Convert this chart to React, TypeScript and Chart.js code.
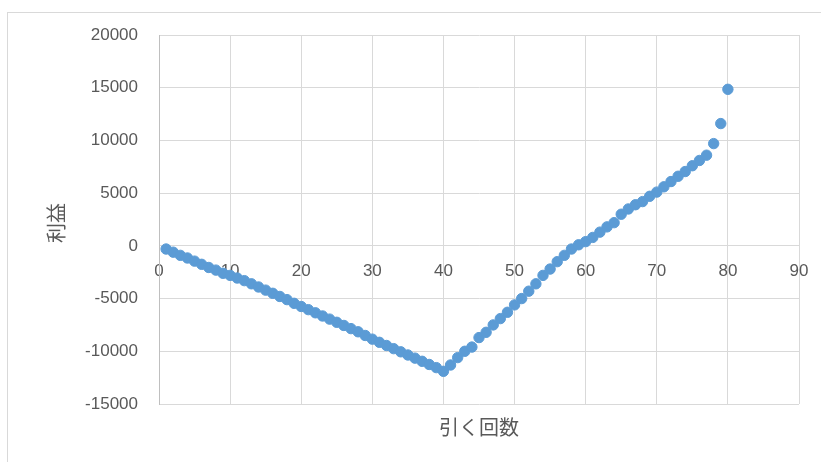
import React, { useEffect, useRef } from 'react';
import { Chart, registerables } from 'chart.js';

Chart.register(...registerables);

const drawCounts = [
  1, 2, 3, 4, 5, 6, 7, 8, 9, 10,
  11, 12, 13, 14, 15, 16, 17, 18, 19, 20,
  21, 22, 23, 24, 25, 26, 27, 28, 29, 30,
  31, 32, 33, 34, 35, 36, 37, 38, 39, 40,
  41, 42, 43, 44, 45, 46, 47, 48, 49, 50,
  51, 52, 53, 54, 55, 56, 57, 58, 59, 60,
  61, 62, 63, 64, 65, 66, 67, 68, 69, 70,
  71, 72, 73, 74, 75, 76, 77, 78, 79, 80,
];

const profits = [
  -300, -600, -900, -1150, -1450, -1750, -2050, -2300, -2600, -2800,
  -3050, -3300, -3600, -3900, -4200, -4500, -4800, -5100, -5450, -5750,
  -6050, -6350, -6650, -6950, -7250, -7550, -7850, -8150, -8500, -8850,
  -9150, -9450, -9750, -10050, -10350, -10650, -10950, -11250, -11550, -11900,
  -11300, -10600, -10000, -9600, -8700, -8200, -7500, -6900, -6300, -5600,
  -5000, -4300, -3600, -2800, -2200, -1500, -900, -300, 100, 400,
  800, 1300, 1800, 2200, 3000, 3500, 3900, 4200, 4700, 5100,
  5600, 6100, 6600, 7050, 7600, 8100, 8600, 9700, 11600, 14850,
];

const xTickValues = [0, 10, 20, 30, 40, 50, 60, 70, 80, 90];
const yTickValues = [-15000, -10000, -5000, 0, 5000, 10000, 15000, 20000];

const xTitle = '引く回数';
const yTitle = '利益';

const TEXT = '#595959';
const GRID = '#d9d9d9';
const POINT = '#5B9BD5';

export default function App() {
  const ref = useRef<HTMLCanvasElement | null>(null);

  useEffect(() => {
    if (!ref.current) return;
    const chart = new Chart(ref.current, {
      type: 'scatter',
      data: {
        datasets: [
          {
            data: drawCounts.map((x, i) => ({ x, y: profits[i] })),
            backgroundColor: POINT,
            borderColor: POINT,
            borderWidth: 1,
            pointRadius: 5.2,
            pointHoverRadius: 5.2,
          },
        ],
      },
      options: {
        responsive: false,
        animation: false,
        layout: { padding: { left: 0, top: 35, right: 22, bottom: 58 } },
        plugins: {
          legend: { display: false },
          tooltip: { enabled: false },
        },
        scales: {
          x: {
            type: 'linear',
            position: { y: 0 } as any,
            min: xTickValues[0],
            max: xTickValues[xTickValues.length - 1],
            afterBuildTicks: (s: any) => {
              s.ticks = xTickValues.map((v) => ({ value: v }));
            },
            afterFit: (s: any) => {
              s.paddingLeft = 0;
              s.paddingRight = 0;
            },
            ticks: {
              color: TEXT,
              font: { family: 'Liberation Sans', size: 17 },
              padding: 15,
              maxRotation: 0,
              callback: (v: any) => String(v),
            },
            grid: { color: GRID, drawTicks: false },
            border: { color: GRID },
          },
          y: {
            type: 'linear',
            position: 'left',
            min: yTickValues[0],
            max: yTickValues[yTickValues.length - 1],
            afterBuildTicks: (s: any) => {
              s.ticks = yTickValues.map((v) => ({ value: v }));
            },
            afterFit: (s: any) => {
              s.width = 159;
              s.paddingTop = 0;
              s.paddingBottom = 0;
            },
            ticks: {
              color: TEXT,
              font: { family: 'Liberation Sans', size: 17 },
              padding: 21,
              callback: (v: any) => String(v),
            },
            grid: { color: GRID, drawTicks: false },
            border: { color: '#bfbfbf' },
          },
        },
      },
    });
    return () => chart.destroy();
  }, []);

  return (
    <div
      style={{
        position: 'fixed',
        left: 0,
        top: 0,
        width: 821,
        height: 462,
        overflow: 'hidden',
        background: '#fff',
      }}
    >
      <div
        style={{
          position: 'absolute',
          left: 7,
          top: 12,
          width: 840,
          height: 480,
          border: '1px solid #d9d9d9',
          boxSizing: 'border-box',
        }}
      />
      <canvas
        ref={ref}
        width={821}
        height={462}
        style={{ position: 'absolute', left: 0, top: 0, width: 821, height: 462 }}
      />
      <div
        style={{
          position: 'absolute',
          left: 56,
          top: 223,
          transform: 'translate(-50%, -50%) rotate(-90deg)',
          fontFamily: '"Noto Sans CJK JP", sans-serif',
          fontSize: 20,
          color: TEXT,
          whiteSpace: 'nowrap',
          lineHeight: 1,
        }}
      >
        {yTitle}
      </div>
      <div
        style={{
          position: 'absolute',
          left: 479,
          top: 427,
          transform: 'translate(-50%, -50%)',
          fontFamily: '"Noto Sans CJK JP", sans-serif',
          fontSize: 20,
          color: TEXT,
          whiteSpace: 'nowrap',
          lineHeight: 1,
        }}
      >
        {xTitle}
      </div>
    </div>
  );
}
